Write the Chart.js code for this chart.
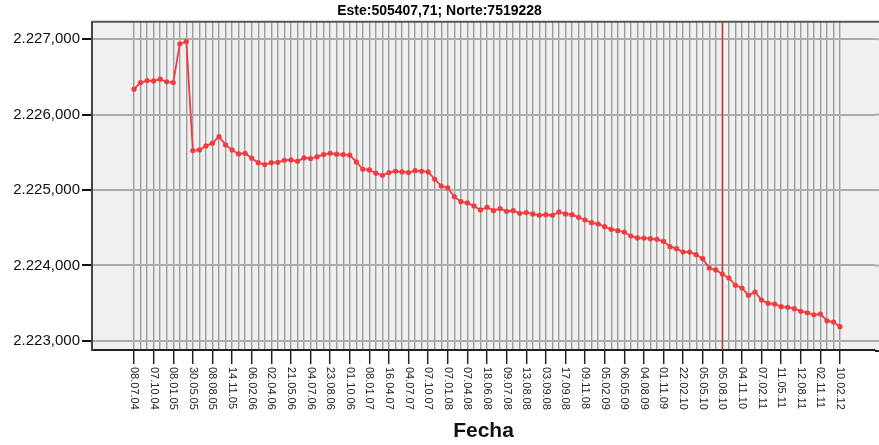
<!DOCTYPE html>
<html>
<head>
<meta charset="utf-8">
<script src="https://cdn.jsdelivr.net/npm/chart.js@4/dist/chart.umd.min.js"></script>
<style>
  body { margin: 0; background: #fff; }
  #wrap { width: 879px; height: 445px; }
</style>
</head>
<body>
<div id="wrap"><canvas id="chart" width="879" height="445"></canvas></div>
<script>
// fechas rotuladas (una cada 3 medidas)
const dateLabels = ['08.07.04', '07.10.04', '08.01.05', '30.05.05', '08.08.05', '14.11.05', '06.02.06',
  '02.04.06', '21.05.06', '04.07.06', '23.08.06', '01.10.06', '08.01.07', '16.04.07', '04.07.07',
  '07.10.07', '07.01.08', '07.04.08', '18.06.08', '09.07.08', '13.08.08', '03.09.08', '17.09.08',
  '09.11.08', '05.02.09', '06.05.09', '04.08.09', '01.11.09', '22.02.10', '05.05.10', '05.08.10',
  '04.11.10', '07.02.11', '11.05.11', '12.08.11', '02.11.11', '10.02.12'];
const labelEvery = 3;

// cota medida en cada campaña
const heights = [
  2226.337, 2226.425, 2226.451, 2226.447, 2226.469, 2226.434, 2226.425, 2226.938, 2226.968, 2225.523,
  2225.532, 2225.585, 2225.621, 2225.708, 2225.598, 2225.532, 2225.479, 2225.488, 2225.422, 2225.363,
  2225.337, 2225.363, 2225.368, 2225.395, 2225.399, 2225.382, 2225.426, 2225.417, 2225.443, 2225.470,
  2225.488, 2225.475, 2225.470, 2225.462, 2225.373, 2225.276, 2225.267, 2225.223, 2225.196, 2225.231,
  2225.249, 2225.240, 2225.231, 2225.257, 2225.249, 2225.240, 2225.143, 2225.054, 2225.028, 2224.912,
  2224.846, 2224.829, 2224.789, 2224.736, 2224.772, 2224.727, 2224.754, 2224.719, 2224.727, 2224.692,
  2224.701, 2224.683, 2224.666, 2224.674, 2224.666, 2224.710, 2224.683, 2224.674, 2224.639, 2224.603,
  2224.568, 2224.550, 2224.515, 2224.480, 2224.462, 2224.444, 2224.391, 2224.365, 2224.363, 2224.356,
  2224.347, 2224.321, 2224.250, 2224.223, 2224.179, 2224.179, 2224.143, 2224.090, 2223.967, 2223.941,
  2223.887, 2223.834, 2223.737, 2223.702, 2223.605, 2223.649, 2223.543, 2223.499, 2223.489, 2223.454,
  2223.446, 2223.428, 2223.393, 2223.374, 2223.347, 2223.357, 2223.268, 2223.251, 2223.189
];

const yTicks = [2223, 2224, 2225, 2226, 2227];
const refIndex = 90; // linea de referencia (05.08.10)

const lastIndex = heights.length - 1;

function fmtEs(v) {
  const parts = v.toFixed(3).split('.');
  const intPart = parts[0].replace(/\B(?=(\d{3})+(?!\d))/g, '.');
  return intPart + ',' + parts[1];
}

const plotDeco = {
  id: 'plotDeco',
  beforeDraw(chart) {
    const {ctx, chartArea: a} = chart;
    ctx.save();
    ctx.fillStyle = '#f0f0f0';
    ctx.fillRect(a.left, a.top, chart.width - a.left, a.bottom - a.top);
    ctx.restore();
  },
  beforeDatasetsDraw(chart) {
    const {ctx, chartArea: a, scales: {x, y}} = chart;
    ctx.save();
    // prolongar rejilla horizontal hasta el borde
    ctx.strokeStyle = '#adadad';
    ctx.lineWidth = 2;
    yTicks.forEach(v => {
      const py = y.getPixelForValue(v);
      ctx.beginPath();
      ctx.moveTo(a.right, py);
      ctx.lineTo(chart.width, py);
      ctx.stroke();
    });
    ctx.strokeStyle = '#222';
    ctx.beginPath();
    ctx.moveTo(a.right, a.bottom + 1);
    ctx.lineTo(chart.width, a.bottom + 1);
    ctx.stroke();

    const px = x.getPixelForValue(refIndex);
    ctx.strokeStyle = '#b8403f';
    ctx.lineWidth = 1.5;
    ctx.beginPath();
    ctx.moveTo(px, a.top);
    ctx.lineTo(px, a.bottom);
    ctx.stroke();
    // borde superior
    ctx.strokeStyle = '#555';
    ctx.lineWidth = 2;
    ctx.beginPath();
    ctx.moveTo(a.left, a.top);
    ctx.lineTo(chart.width, a.top);
    ctx.stroke();
    ctx.restore();
  },
  afterDraw(chart) {
    const {ctx, chartArea: a, scales: {x}} = chart;
    ctx.save();
    ctx.font = '11px "Liberation Sans", Arial, sans-serif';
    ctx.fillStyle = '#222';
    ctx.textAlign = 'left';
    ctx.textBaseline = 'middle';
    dateLabels.forEach((lab, k) => {
      const px = x.getPixelForValue(k * labelEvery);
      ctx.save();
      ctx.translate(px, a.bottom + 17);
      ctx.rotate(Math.PI / 2);
      ctx.fillText(lab, 0, 0);
      ctx.restore();
    });
    ctx.restore();
  }
};

const inRange = v => Number.isInteger(v) && v >= 0 && v <= lastIndex;

new Chart(document.getElementById('chart'), {
  type: 'line',
  data: {
    datasets: [{
      data: heights.map((h, i) => ({x: i, y: h})),
      borderColor: '#f23a3f',
      backgroundColor: '#f23a3f',
      borderWidth: 1.8,
      pointRadius: 2.6,
      pointBorderWidth: 0,
      tension: 0
    }]
  },
  options: {
    responsive: false,
    animation: false,
    layout: {padding: 0},
    plugins: {
      legend: {display: false},
      tooltip: {enabled: false},
      title: {
        display: true,
        text: 'Este:505407,71; Norte:7519228',
        color: '#000',
        font: {family: '"Liberation Sans", Arial, sans-serif', size: 14, weight: 'bold'},
        padding: {top: 3, bottom: 2}
      }
    },
    scales: {
      x: {
        type: 'linear',
        min: -6.43,
        max: 113.35,
        border: {color: '#222', width: 2},
        grid: {
          color: c => inRange(c.tick.value) ? '#9c9c9c' : 'transparent',
          lineWidth: 1.4,
          tickLength: 14,
          tickWidth: 1.5,
          tickColor: c => (inRange(c.tick.value) && c.tick.value % labelEvery === 0) ? '#222' : 'transparent'
        },
        ticks: {stepSize: 1, autoSkip: false, maxRotation: 0, callback: () => ''},
        title: {
          display: true,
          text: 'Fecha',
          color: '#111',
          font: {family: '"Liberation Sans", Arial, sans-serif', size: 21, weight: 'bold'},
          padding: {top: 0, bottom: 1}
        },
        afterFit: s => { s.height = 95; }
      },
      y: {
        min: 2222.88,
        max: 2227.23,
        afterBuildTicks: s => { s.ticks = yTicks.map(v => ({value: v})); },
        border: {color: '#444', width: 2},
        grid: {color: '#adadad', lineWidth: 2, tickLength: 10, tickColor: '#111', tickWidth: 2},
        ticks: {
          callback: v => fmtEs(v),
          color: '#111',
          padding: 2,
          font: {family: '"Liberation Sans", Arial, sans-serif', size: 15}
        },
        afterFit: s => { s.width = 92; }
      }
    }
  },
  plugins: [plotDeco]
});
</script>
</body>
</html>
